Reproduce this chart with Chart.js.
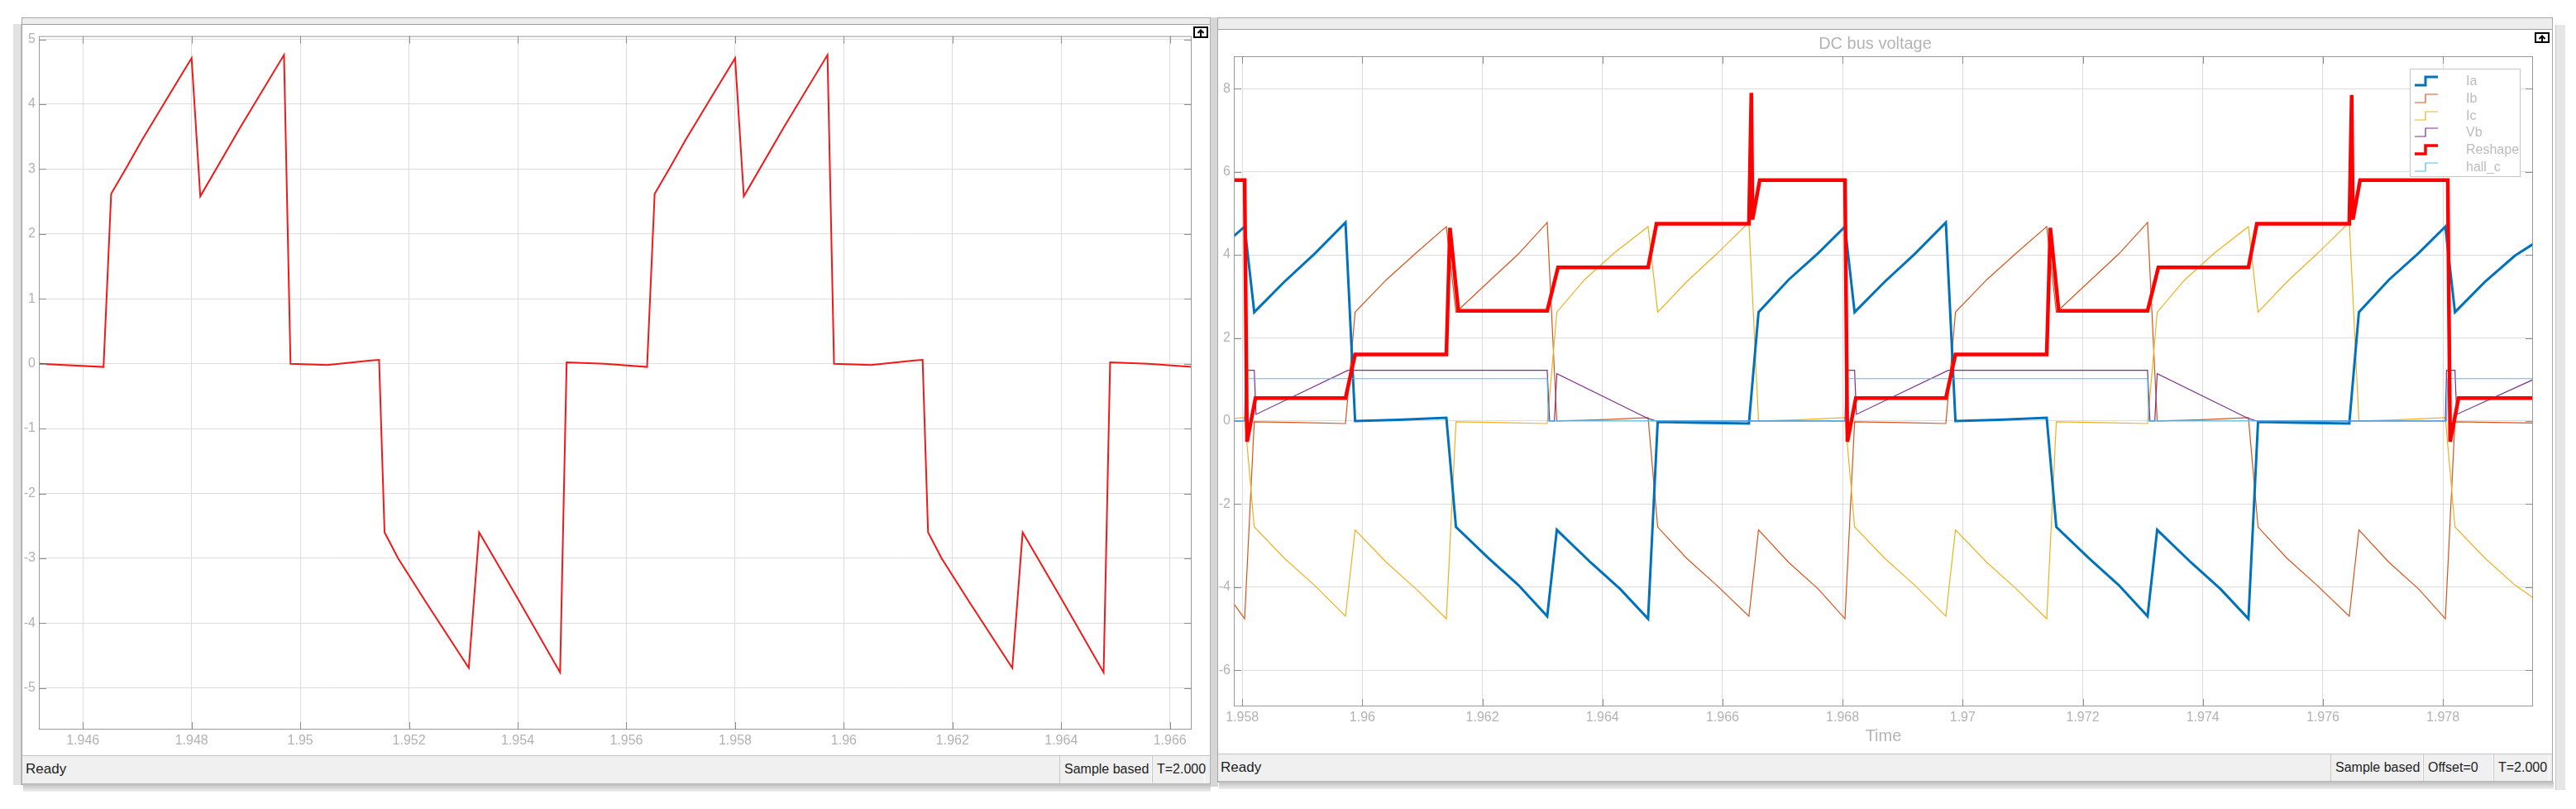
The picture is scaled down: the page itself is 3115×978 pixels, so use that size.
<!DOCTYPE html>
<html>
<head>
<meta charset="utf-8">
<script src="https://cdn.jsdelivr.net/npm/chart.js@4.4.1/dist/chart.umd.min.js"></script>
<style>
    body { margin: 0; width: 3115px; height: 978px; background: #fff; position: relative; overflow: hidden;
           font-family: "Liberation Sans", Arial, sans-serif; }
    .abs { position: absolute; box-sizing: border-box; }
    .win { background: #fff; border: 1px solid #a8a8a8; }
    .strip { background: #ededed; border-bottom: 1px solid #a0a0a0; }
    .status { background: #f0f0f0; border-top: 1px solid #c4c4c4; border-bottom: 1px solid #b8b8b8; }
    .status span { position: absolute; top: 0; height: 100%; line-height: 32px; font-size: 17px; color: #1e1e1e;
                   white-space: nowrap; box-sizing: border-box; }
    .status span.cell { font-size: 16px; border-left: 1px solid #c8c8c8; border-right: 1px solid #fff; padding-left: 5px; }
    .shadow { background: linear-gradient(#bdbdbd, #efefef); }
    canvas { position: absolute; }
</style>
</head>
<body>
<!-- window frames -->
<div class="abs" style="left:16px;top:29px;width:10px;height:920px;background:#e2e2e2;border-right:1px solid #c0c0c0"></div>
<div class="abs win" style="left:26px;top:21px;width:1438px;height:928px"></div>
<div class="abs strip" style="left:27px;top:22px;width:1436px;height:8px"></div>
<div class="abs" style="left:1463px;top:21px;width:10px;height:930px;background:#d6d6d6;border-left:1px solid #b0b0b0"></div>
<div class="abs win" style="left:1472px;top:21px;width:1615px;height:925px"></div>
<div class="abs strip" style="left:1473px;top:22px;width:1613px;height:14px"></div>
<div class="abs" style="left:3090px;top:30px;width:12px;height:925px;background:#e6e6e6;border-left:1px solid #c8c8c8"></div>

<canvas id="leftChart" width="1435" height="880" style="left:28px;top:30px"></canvas>
<canvas id="rightChart" width="1613" height="869" style="left:1472px;top:36px"></canvas>

<svg class="abs" style="left:1443px;top:32px" width="18" height="14"><rect x="1" y="1" width="16" height="12" fill="#fff" stroke="#000" stroke-width="2"/><path d="M9 12 V5 M5.5 8 L9 4.5 L12.5 8" stroke="#000" stroke-width="2" fill="none"/></svg>
<svg class="abs" style="left:3065px;top:39px" width="18" height="13"><rect x="1" y="1" width="16" height="11" fill="#fff" stroke="#000" stroke-width="2"/><path d="M9 11 V5 M5.5 8 L9 4.5 L12.5 8" stroke="#000" stroke-width="2" fill="none"/></svg>

<!-- status bars -->
<div class="abs status" style="left:27px;top:913px;width:1436px;height:35px">
    <span style="left:4px">Ready</span>
    <span class="cell" style="left:1254px;width:112px">Sample based</span>
    <span class="cell" style="left:1366px;width:64px">T=2.000</span>
</div>
<div class="abs status" style="left:1473px;top:911px;width:1613px;height:34px">
    <span style="left:3px">Ready</span>
    <span class="cell" style="left:1345px;width:112px">Sample based</span>
    <span class="cell" style="left:1457px;width:85px">Offset=0</span>
    <span class="cell" style="left:1542px;width:68px">T=2.000</span>
</div>
<div class="abs shadow" style="left:28px;top:948px;width:1436px;height:9px"></div>
<div class="abs shadow" style="left:1474px;top:945px;width:1614px;height:9px"></div>

<script>
// ---- left scope: single trace ----
const leftTicksX = [1.946, 1.948, 1.95, 1.952, 1.954, 1.956, 1.958, 1.96, 1.962, 1.964, 1.966];
const leftLabelsX = ['1.946', '1.948', '1.95', '1.952', '1.954', '1.956', '1.958', '1.96', '1.962', '1.964', '1.966'];
const leftTicksY = [-5, -4, -3, -2, -1, 0, 1, 2, 3, 4, 5];
const leftTrace = [
    [1.9452, 0.0], [1.94638, -0.05], [1.94652, 2.62], [1.9468, 3.02], [1.94709, 3.45], [1.9476, 4.16], [1.948, 4.71],
    [1.94816, 2.58], [1.9489, 3.65], [1.9497, 4.76], [1.94982, 0.0], [1.9505, -0.02], [1.9513, 0.05],
    [1.95145, 0.06], [1.95155, -2.6], [1.9518, -3.0], [1.9523, -3.66], [1.9531, -4.69], [1.95329, -2.6], [1.954, -3.62],
    [1.95478, -4.76], [1.9549, 0.02], [1.9556, 0.0], [1.95638, -0.05], [1.95652, 2.62], [1.9568, 3.02], [1.95709, 3.45],
    [1.9576, 4.16], [1.958, 4.71], [1.95816, 2.58], [1.9589, 3.65], [1.9597, 4.76], [1.95982, 0.0],
    [1.9605, -0.02], [1.9613, 0.05], [1.96145, 0.06], [1.96155, -2.6], [1.9618, -3.0], [1.9623, -3.66], [1.9631, -4.69],
    [1.96329, -2.6], [1.964, -3.62], [1.96478, -4.76], [1.9649, 0.02], [1.9656, 0.0], [1.9664, -0.05]
];

// ---- right scope: DC bus voltage ----
const rightTicksX = [1.958, 1.96, 1.962, 1.964, 1.966, 1.968, 1.97, 1.972, 1.974, 1.976, 1.978];
const rightLabelsX = ['1.958', '1.96', '1.962', '1.964', '1.966', '1.968', '1.97', '1.972', '1.974', '1.976', '1.978'];
const rightTicksY = [-6, -4, -2, 0, 2, 4, 6, 8];
const seriesNames = ['Ia', 'Ib', 'Ic', 'Vb', 'Reshape', 'hall_c'];
const seriesColors = ['#0072BD', '#D95319', '#EDB120', '#7E2F8E', '#FF0000', '#4DBEEE'];

const ia = [
    [1.95786, 4.45], [1.95804, 4.68], [1.9582, 2.62], [1.9587, 3.35], [1.9592, 4.02], [1.95972, 4.78],
    [1.95988, 0.0], [1.9606, 0.03], [1.9614, 0.08], [1.96156, -2.55], [1.9621, -3.3], [1.9626, -3.95],
    [1.96308, -4.7], [1.96324, -2.62], [1.9638, -3.4], [1.9643, -4.05], [1.96476, -4.76], [1.96492, -0.02],
    [1.9656, -0.04], [1.96644, -0.06], [1.9666, 2.62], [1.9671, 3.4], [1.9676, 4.05], [1.96804, 4.68],
    [1.9682, 2.62], [1.9687, 3.35], [1.9692, 4.02], [1.96972, 4.78], [1.96988, 0.0], [1.9706, 0.03],
    [1.9714, 0.08], [1.97156, -2.55], [1.9721, -3.3], [1.9726, -3.95], [1.97308, -4.7], [1.97324, -2.62],
    [1.9738, -3.4], [1.9743, -4.05], [1.97476, -4.76], [1.97492, -0.02], [1.9756, -0.04], [1.97644, -0.06],
    [1.9766, 2.62], [1.9771, 3.4], [1.9776, 4.05], [1.97804, 4.68], [1.9782, 2.62], [1.9787, 3.35],
    [1.9792, 3.98], [1.9796, 4.35]
];
const ib = [
    [1.95786, -4.4], [1.95804, -4.76], [1.9582, -0.02], [1.959, -0.04], [1.95972, -0.06], [1.95988, 2.62],
    [1.9604, 3.4], [1.9609, 4.05], [1.9614, 4.68], [1.96156, 2.62], [1.9621, 3.35], [1.9626, 4.02],
    [1.96308, 4.78], [1.96324, 0.0], [1.964, 0.03], [1.96476, 0.08], [1.96492, -2.55], [1.9654, -3.3],
    [1.9659, -3.95], [1.96644, -4.7], [1.9666, -2.62], [1.9671, -3.4], [1.9676, -4.05], [1.96804, -4.76],
    [1.9682, -0.02], [1.969, -0.04], [1.96972, -0.06], [1.96988, 2.62], [1.9704, 3.4], [1.9709, 4.05],
    [1.9714, 4.68], [1.97156, 2.62], [1.9721, 3.35], [1.9726, 4.02], [1.97308, 4.78], [1.97324, 0.0],
    [1.974, 0.03], [1.97476, 0.08], [1.97492, -2.55], [1.9754, -3.3], [1.9759, -3.95], [1.97644, -4.7],
    [1.9766, -2.62], [1.9771, -3.4], [1.9776, -4.05], [1.97804, -4.76], [1.9782, -0.02], [1.9796, -0.05]
];
const ic = [
    [1.95786, 0.06], [1.95804, 0.08], [1.9582, -2.55], [1.9587, -3.3], [1.9592, -3.95], [1.95972, -4.7],
    [1.95988, -2.62], [1.9604, -3.4], [1.9609, -4.05], [1.9614, -4.76], [1.96156, -0.02], [1.9623, -0.04],
    [1.96308, -0.06], [1.96324, 2.62], [1.9637, 3.4], [1.9642, 4.05], [1.96476, 4.68], [1.96492, 2.62],
    [1.9654, 3.35], [1.9659, 4.02], [1.96644, 4.78], [1.9666, 0.0], [1.9673, 0.03], [1.96804, 0.08],
    [1.9682, -2.55], [1.9687, -3.3], [1.9692, -3.95], [1.96972, -4.7], [1.96988, -2.62], [1.9704, -3.4],
    [1.9709, -4.05], [1.9714, -4.76], [1.97156, -0.02], [1.9723, -0.04], [1.97308, -0.06], [1.97324, 2.62],
    [1.9737, 3.4], [1.9742, 4.05], [1.97476, 4.68], [1.97492, 2.62], [1.9754, 3.35], [1.9759, 4.02],
    [1.97644, 4.78], [1.9766, 0.0], [1.9773, 0.03], [1.97804, 0.08], [1.9782, -2.55], [1.9787, -3.3],
    [1.9792, -3.95], [1.9796, -4.35]
];
const vb = [
    [1.95786, 0.0], [1.95804, 0.0], [1.95806, 1.22], [1.9582, 1.22], [1.95823, 0.16], [1.95976, 1.22],
    [1.96308, 1.22], [1.96312, 0.0], [1.9632, 0.0], [1.96324, 1.14], [1.96476, 0.06], [1.9649, 0.0],
    [1.96804, 0.0], [1.96806, 1.22], [1.9682, 1.22], [1.96823, 0.16], [1.96976, 1.22], [1.97308, 1.22],
    [1.97312, 0.0], [1.9732, 0.0], [1.97324, 1.14], [1.97476, 0.06], [1.9749, 0.0], [1.97804, 0.0],
    [1.97806, 1.22], [1.9782, 1.22], [1.97823, 0.16], [1.9796, 1.06]
];
const reshape = [
    [1.95786, 5.8], [1.95804, 5.8], [1.95808, -0.5], [1.95822, 0.55], [1.95972, 0.55], [1.95988, 1.6],
    [1.9614, 1.6], [1.96146, 4.65], [1.9616, 2.65], [1.96308, 2.65], [1.96326, 3.7], [1.96476, 3.7],
    [1.9649, 4.75], [1.96644, 4.75], [1.96648, 7.9], [1.9665, 4.85], [1.96662, 5.8], [1.96804, 5.8],
    [1.96808, -0.5], [1.96822, 0.55], [1.96972, 0.55], [1.96988, 1.6], [1.9714, 1.6], [1.97146, 4.65],
    [1.9716, 2.65], [1.97308, 2.65], [1.97326, 3.7], [1.97476, 3.7], [1.9749, 4.75], [1.97644, 4.75],
    [1.97648, 7.85], [1.9765, 4.85], [1.97662, 5.8], [1.97808, 5.8], [1.97812, -0.5], [1.97826, 0.55],
    [1.9796, 0.55]
];
const hallC = [
    [1.95786, 0.0], [1.95806, 0.0], [1.95808, 1.02], [1.96308, 1.02], [1.9631, 0.0], [1.96806, 0.0],
    [1.96808, 1.02], [1.97308, 1.02], [1.9731, 0.0], [1.97806, 0.0], [1.97808, 1.02], [1.9796, 1.02]
];

const tickFont = { family: 'Liberation Sans', size: 16 };
const tickColor = '#b2b2b2';
const gridColor = '#dddddd';

// box around plot area and short inward tick marks, like the scope
const scopeFrame = {
    id: 'scopeFrame',
    afterDraw(chart) {
        const { ctx, chartArea: a, scales } = chart;
        ctx.save();
        ctx.strokeStyle = '#9a9a9a';
        ctx.lineWidth = 1;
        ctx.strokeRect(a.left + 0.5, a.top + 0.5, a.right - a.left - 1, a.bottom - a.top - 1);
        ctx.strokeStyle = '#8c8c8c';
        ctx.beginPath();
        scales.x.ticks.forEach(t => {
            const px = Math.round(scales.x.getPixelForValue(t.value)) + 0.5;
            ctx.moveTo(px, a.bottom); ctx.lineTo(px, a.bottom - 9);
            ctx.moveTo(px, a.top); ctx.lineTo(px, a.top + 9);
        });
        scales.y.ticks.forEach(t => {
            const py = Math.round(scales.y.getPixelForValue(t.value)) + 0.5;
            ctx.moveTo(a.left, py); ctx.lineTo(a.left + 9, py);
            ctx.moveTo(a.right, py); ctx.lineTo(a.right - 9, py);
        });
        ctx.stroke();
        ctx.restore();
    }
};

// legend box with step icons in the upper right corner
const scopeLegend = {
    id: 'scopeLegend',
    afterDatasetsDraw(chart) {
        const { ctx, chartArea } = chart;
        const boxW = 133, boxH = 130;
        const x0 = chartArea.right - 16 - boxW;
        const y0 = chartArea.top + 15;
        ctx.save();
        ctx.fillStyle = '#ffffff';
        ctx.fillRect(x0, y0, boxW, boxH);
        ctx.strokeStyle = '#c6c6c6';
        ctx.lineWidth = 1;
        ctx.strokeRect(x0 + 0.5, y0 + 0.5, boxW, boxH);
        chart.data.datasets.forEach((ds, i) => {
            const cy = Math.round(y0 + 15 + i * 20.8);
            ctx.strokeStyle = ds.borderColor;
            ctx.lineWidth = Math.min(ds.borderWidth, 3.5);
            ctx.beginPath();
            ctx.moveTo(x0 + 6, cy + 5);
            ctx.lineTo(x0 + 19, cy + 5);
            ctx.lineTo(x0 + 19, cy - 5);
            ctx.lineTo(x0 + 34, cy - 5);
            ctx.stroke();
            ctx.fillStyle = '#bcbcbc';
            ctx.font = '16px "Liberation Sans", Arial';
            ctx.textBaseline = 'middle';
            ctx.fillText(ds.label, x0 + 68, cy + 1);
        });
        ctx.restore();
    }
};

function axisX(min, max, values, labels, height, title) {
    return {
        type: 'linear', min: min, max: max,
        afterBuildTicks: s => { s.ticks = values.map(v => ({ value: v })); },
        afterFit: s => { s.height = height; },
        ticks: { color: tickColor, font: tickFont, padding: 4, maxRotation: 0, autoSkip: false,
                 callback: (v, i) => labels[i] },
        grid: { color: gridColor, drawTicks: false },
        border: { display: false },
        title: title
    };
}

function axisY(min, max, values, width) {
    return {
        type: 'linear', min: min, max: max,
        afterBuildTicks: s => { s.ticks = values.map(v => ({ value: v })); },
        afterFit: s => { s.width = width; },
        ticks: { color: tickColor, font: tickFont, padding: 4, callback: v => String(v) },
        grid: { color: gridColor, drawTicks: false },
        border: { display: false }
    };
}

document.addEventListener('DOMContentLoaded', function () {
    // left scope
    new Chart(document.getElementById('leftChart').getContext('2d'), {
        type: 'line',
        data: {
            datasets: [{
                label: 'Ia',
                data: leftTrace.map(p => ({ x: p[0], y: p[1] })),
                borderColor: '#F21818',
                borderWidth: 2,
                pointRadius: 0,
                tension: 0
            }]
        },
        options: {
            responsive: false,
            animation: false,
            devicePixelRatio: 1,
            layout: { padding: { top: 13, right: 22, left: 0, bottom: 0 } },
            plugins: { legend: { display: false }, tooltip: { enabled: false } },
            scales: {
                x: axisX(1.94519, 1.9664, leftTicksX, leftLabelsX, 28, { display: false }),
                y: axisY(-5.64, 5.05, leftTicksY, 19)
            }
        },
        plugins: [scopeFrame]
    });

    // right scope
    const allSeries = [ia, ib, ic, vb, reshape, hallC];
    const widths = [3, 1.2, 1.2, 1.2, 4.5, 1.2];
    const drawOrder = [3, 5, 4, 2, 0, 1];
    new Chart(document.getElementById('rightChart').getContext('2d'), {
        type: 'line',
        data: {
            datasets: allSeries.map((s, i) => ({
                label: seriesNames[i],
                data: s.map(p => ({ x: p[0], y: p[1] })),
                borderColor: seriesColors[i],
                borderWidth: widths[i],
                order: drawOrder[i],
                pointRadius: 0,
                tension: 0
            }))
        },
        options: {
            responsive: false,
            animation: false,
            devicePixelRatio: 1,
            layout: { padding: { top: 0, right: 22, left: 0, bottom: 0 } },
            plugins: {
                legend: { display: false },
                tooltip: { enabled: false },
                title: {
                    display: true,
                    text: 'DC bus voltage',
                    color: '#b4b4b4',
                    font: { family: 'Liberation Sans', size: 20, weight: 'normal' },
                    padding: { top: 5, bottom: 3 }
                }
            },
            scales: {
                x: axisX(1.95786, 1.9795, rightTicksX, rightLabelsX, 51, {
                    display: true, text: 'Time', color: '#b4b4b4',
                    font: { family: 'Liberation Sans', size: 20 },
                    padding: { top: 0, bottom: 3 }
                }),
                y: axisY(-6.87, 8.78, rightTicksY, 20)
            }
        },
        plugins: [scopeFrame, scopeLegend]
    });
});
</script>
</body>
</html>
